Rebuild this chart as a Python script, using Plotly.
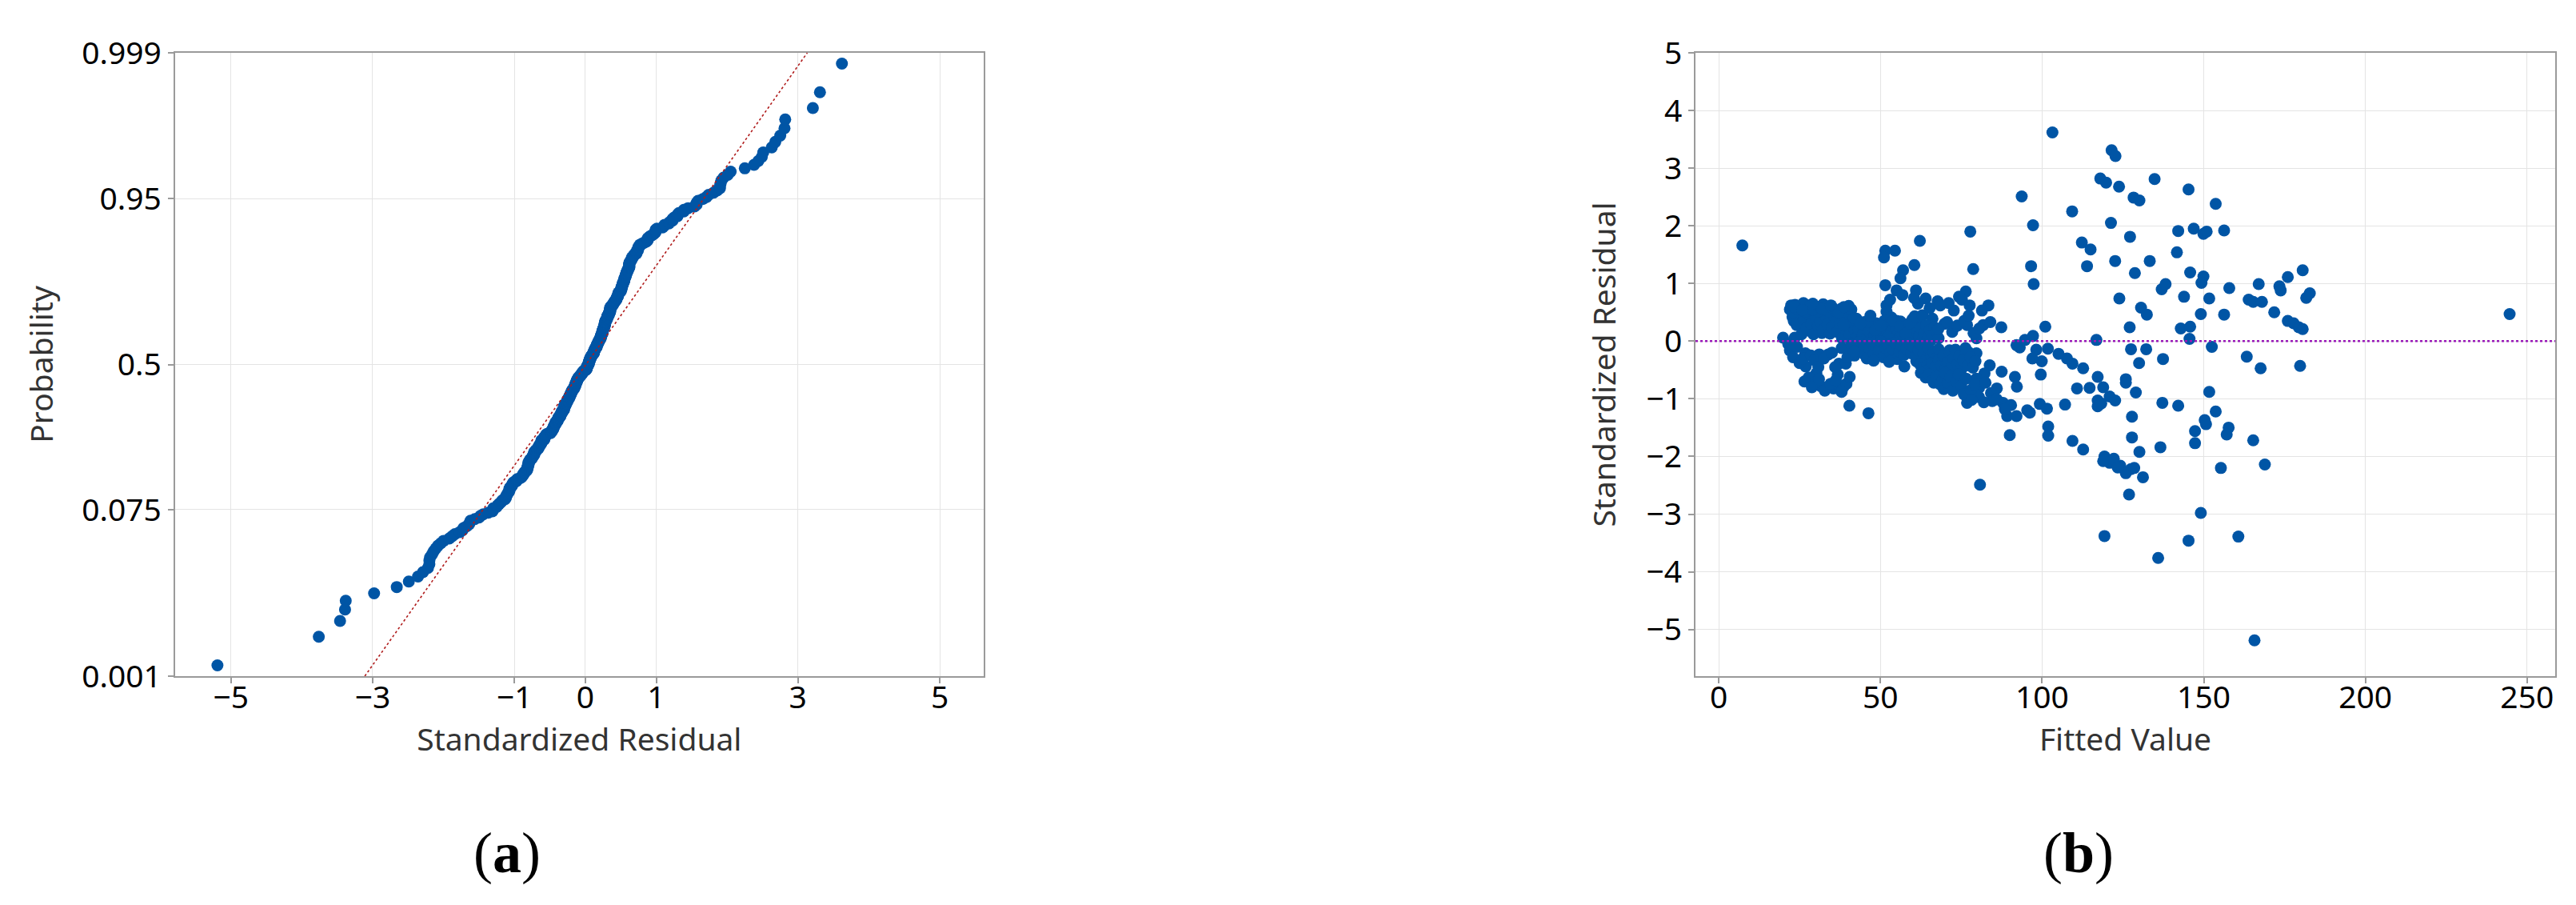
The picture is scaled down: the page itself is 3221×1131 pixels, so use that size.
import plotly.graph_objects as go
from statistics import NormalDist

# ---------------- data (fitted value, standardized residual) ----------------
# clearly separated points, read individually
pts_isolated = [
    (7.3, 1.66), (51.5, 1.57), (54.5, 1.57), (51.1, 1.45), (62.2, 1.74), (60.5, 1.32),
    (57.0, 1.23), (56.2, 1.09), (51.5, 0.97), (55.0, 0.88), (61.0, 0.88), (64.0, 0.74),
    (61.6, 0.65), (67.7, 0.69), (51.9, 0.62), (51.9, 0.51), (22.4, 0.62), (26.9, 0.60),
    (29.4, 0.51), (31.9, 0.46), (23.2, 0.35), (27.8, 0.35), (35.2, 0.35), (38.5, 0.44),
    (40.1, 0.49), (42.6, 0.39), (31.9, 0.14), (28.2, 0.18), (19.9, 0.06), (23.5, 0.06),
    (22.0, -0.16), (26.8, -0.21), (31.1, -0.23), (33.9, -0.23), (26.9, -0.44), (37.2, -0.39),
    (39.3, -0.39), (30.2, -0.56), (27.8, -0.63), (36.8, -0.58), (45.1, -0.23), (50.8, 0.26),
    (55.0, 0.35), (60.0, 0.25), (61.5, 0.05), (66.1, 0.39), (65.7, 0.02), (69.8, 0.30),
    (51.7, -0.25), (57.4, -0.44), (61.1, -0.35), (66.5, -0.35), (68.2, -0.58), (71.4, -0.16),
    (40.4, -1.12), (46.3, -1.25), (66.5, -0.72), (69.6, -0.83), (29.5, -0.72), (31.5, -0.78),
    (33.5, -0.80), (35.5, -0.82), (37.0, -0.76), (38.5, -0.80), (39.5, -0.74),
]
pts_mid = [
    (103.2, 3.62), (121.5, 3.31), (122.7, 3.21), (118.0, 2.82), (119.8, 2.75), (123.8, 2.68),
    (134.8, 2.81), (128.3, 2.49), (130.1, 2.44), (93.7, 2.51), (109.3, 2.25), (97.2, 2.01),
    (121.3, 2.05), (77.8, 1.90), (127.2, 1.81), (112.3, 1.71), (115.0, 1.59), (78.7, 1.25),
    (96.6, 1.30), (113.9, 1.30), (122.6, 1.39), (133.3, 1.39), (128.7, 1.18), (97.4, 0.99),
    (137.0, 0.90), (138.2, 0.99), (123.9, 0.74), (130.6, 0.58), (132.4, 0.46), (127.1, 0.24),
    (101.0, 0.25), (116.8, 0.02), (127.5, -0.14), (132.2, -0.14), (130.0, -0.38), (137.4, -0.31),
    (125.9, -0.66), (117.2, -0.62), (112.7, -0.47), (109.4, -0.39), (107.7, -0.30), (105.1, -0.22),
    (101.8, -0.13), (99.9, -0.35), (98.2, -0.15), (97.0, -0.30), (93.1, -0.11), (92.1, -0.07),
    (94.7, 0.02), (97.2, 0.09), (99.6, -0.58), (91.6, -0.62), (87.5, -0.53), (83.8, -0.42),
    (82.2, -0.56), (79.7, -0.65), (87.4, 0.24), (79.7, 0.05), (81.8, 0.28), (83.4, 0.62),
    (81.4, 0.53), (76.4, 0.86), (75.2, 0.72), (77.6, 0.62), (72.7, 0.53), (72.7, 0.23),
    (76.8, 0.28), (79.7, -0.21), (77.2, -0.19),
    (73.1, -0.81), (76.8, -0.97), (76.8, -1.07), (80.5, -0.81), (80.5, -0.97), (84.2, -0.90),
    (84.6, -1.04), (87.9, -1.07), (90.4, -1.11), (89.2, -1.30), (92.1, -1.30), (95.4, -1.20),
    (92.2, -0.79), (90.0, -1.63), (80.8, -2.49), (99.3, -1.09), (101.5, -1.17), (101.9, -1.48),
    (101.9, -1.64), (107.1, -1.10), (110.8, -0.82), (114.7, -0.81), (118.9, -0.80), (117.2, -1.03),
    (117.2, -1.13), (120.9, -0.96), (122.6, -1.03), (125.9, -0.72), (129.0, -0.89), (127.8, -1.31),
    (127.8, -1.67), (130.1, -1.92), (136.6, -1.84), (137.2, -1.07), (109.4, -1.73), (112.7, -1.88),
    (119.3, -2.00), (120.9, -2.11), (124.2, -2.16), (127.5, -2.22), (125.9, -2.29), (118.9, -2.08),
    (131.2, -2.36), (126.9, -2.66), (119.3, -3.38), (135.9, -3.76),
]
pts_high = [
    (145.3, 2.63), (153.7, 2.38), (142.1, 1.91), (146.9, 1.95), (149.9, 1.86), (150.9, 1.90),
    (156.3, 1.92), (141.7, 1.54), (145.8, 1.19), (149.9, 1.12), (149.3, 1.01), (157.9, 0.92),
    (167.0, 0.99), (173.4, 0.95), (173.8, 0.88), (176.0, 1.11), (180.6, 1.23), (182.8, 0.83),
    (181.7, 0.75), (143.9, 0.77), (151.7, 0.74), (163.9, 0.72), (165.3, 0.68), (168.0, 0.68),
    (149.1, 0.47), (156.3, 0.46), (171.8, 0.50), (176.0, 0.35), (177.8, 0.31), (179.4, 0.24),
    (180.6, 0.21), (142.9, 0.22), (145.8, 0.25), (145.6, 0.04), (152.5, -0.10), (163.3, -0.27),
    (179.8, -0.43), (167.6, -0.47), (151.7, -0.88), (142.1, -1.12), (147.3, -1.56), (150.7, -1.44),
    (150.3, -1.37), (153.7, -1.22), (157.7, -1.50), (157.1, -1.62), (147.3, -1.77), (155.3, -2.20),
    (165.3, -1.72), (168.9, -2.14), (149.1, -2.98), (145.3, -3.46), (160.7, -3.39), (165.7, -5.19),
    (244.6, 0.47),
]
# overlapping points inside the dense cluster (estimated)
pts_dense_upper = [
    (22.8, 0.42), (24.1, 0.28), (24.9, 0.47), (25.6, 0.12), (26.3, 0.38), (27.1, 0.22),
    (27.9, 0.46), (28.6, 0.30), (29.3, 0.12), (30.0, 0.40), (30.7, 0.27), (31.4, 0.35),
    (32.2, 0.19), (32.9, 0.44), (33.6, 0.29), (34.4, 0.13), (35.0, 0.24), (35.9, 0.41),
    (36.6, 0.16), (37.4, 0.31), (38.1, 0.05), (38.9, 0.22), (39.6, 0.36), (40.5, 0.12),
    (41.3, 0.28), (42.1, 0.18), (42.9, 0.08), (43.7, 0.26), (44.4, 0.15), (45.0, 0.33),
    (22.0, 0.55), (23.6, 0.63), (24.5, 0.52), (25.4, 0.58), (26.2, 0.66), (27.5, 0.54),
    (28.3, 0.62), (29.9, 0.57), (30.8, 0.52), (31.5, 0.60), (33.0, 0.55), (34.2, 0.51),
    (36.0, 0.53), (39.0, 0.52), (41.0, 0.55), (22.9, 0.50), (24.0, 0.57), (26.8, 0.51),
    (28.9, 0.55), (32.3, 0.64), (35.1, 0.58), (37.8, 0.56), (40.2, 0.61),
    (23.3, 0.60), (25.9, 0.54), (29.1, 0.65), (31.9, 0.56), (34.7, 0.62), (37.1, 0.50),
    (38.7, 0.59),
]
pts_dense_center = [
    (42.5, 0.05), (43.2, 0.21), (44.0, 0.02), (44.6, 0.12), (45.3, 0.27), (45.9, 0.07),
    (46.5, 0.17), (47.0, 0.01), (47.6, 0.24), (48.2, 0.10), (48.7, 0.31), (49.3, 0.04),
    (49.8, 0.16), (50.4, 0.08), (50.9, 0.20), (51.5, 0.03), (52.0, 0.13), (52.6, 0.28),
    (53.1, 0.06), (53.7, 0.18), (54.2, 0.01), (54.8, 0.23), (55.3, 0.10), (55.9, 0.04),
    (56.4, 0.16), (57.0, 0.30), (57.5, 0.08), (58.1, 0.20), (58.6, 0.02), (59.2, 0.12),
    (59.7, 0.26), (60.3, 0.06), (60.8, 0.17), (61.4, 0.33), (62.0, 0.09), (62.5, 0.22),
    (63.1, 0.03), (63.6, 0.14), (64.2, 0.27), (64.7, 0.07), (65.3, 0.19), (66.0, 0.11),
    (66.7, 0.24), (67.4, 0.16), (68.0, 0.05), (46.1, 0.33), (51.2, 0.35), (56.2, 0.34),
    (59.9, 0.38), (53.4, 0.41),
    (38.6, 0.28), (41.8, 0.40), (43.9, 0.31), (46.9, 0.44), (48.4, 0.19), (50.1, 0.27),
    (52.3, 0.07), (54.0, 0.36), (56.0, 0.25), (57.8, 0.13), (59.0, 0.31), (60.6, 0.43),
    (40.5, -0.15), (41.2, -0.04), (42.0, -0.25), (42.8, -0.11), (43.5, -0.02), (44.3, -0.19),
    (45.0, -0.08), (45.8, -0.30), (46.6, -0.13), (47.3, -0.03), (48.0, -0.22), (48.8, -0.09),
    (49.5, -0.17), (50.2, -0.01), (50.9, -0.28), (51.6, -0.12), (52.3, -0.06), (53.0, -0.20),
    (53.8, -0.14), (54.5, -0.03), (55.2, -0.31), (55.9, -0.18), (56.6, -0.08), (57.3, -0.24),
    (58.0, -0.13), (58.8, -0.04), (59.5, -0.21), (60.2, -0.10), (61.0, -0.27), (61.8, -0.16),
    (62.5, -0.05), (63.3, -0.22), (64.0, -0.33), (64.8, -0.12), (65.6, -0.26), (66.4, -0.19),
    (67.2, -0.30), (68.0, -0.14), (47.9, -0.34), (52.7, -0.36),
]
pts_dense_branches = [
    (63.0, 0.45), (67.9, 0.21), (70.6, 0.33), (72.2, 0.16), (73.8, 0.27), (75.9, 0.35),
    (77.3, 0.44), (78.8, 0.14), (80.6, 0.22), (84.0, 0.33),
    (53.0, 0.72), (56.8, 0.80), (60.4, 0.75), (65.2, 0.57), (68.5, 0.62), (71.1, 0.66),
    (74.3, 0.77),
]
pts_dense_lower = [
    (21.5, -0.05), (23.0, -0.28), (24.2, -0.10), (25.0, -0.38), (26.0, -0.30), (28.5, -0.25),
    (29.6, -0.33), (30.8, -0.45), (32.5, -0.30), (35.0, -0.20), (36.0, -0.45), (38.0, -0.12),
    (39.8, -0.28), (40.9, -0.06), (41.8, -0.18),
    (62.2, -0.40), (63.0, -0.47), (64.5, -0.42), (65.2, -0.49), (66.0, -0.38), (67.0, -0.45),
    (68.0, -0.33), (68.9, -0.42), (69.5, -0.25), (70.2, -0.48), (70.8, -0.36), (71.5, -0.20),
    (72.0, -0.44), (72.6, -0.30), (73.2, -0.15), (73.8, -0.40), (74.4, -0.26), (75.0, -0.49),
    (75.6, -0.33), (76.3, -0.12), (77.0, -0.42), (77.8, -0.28), (78.6, -0.46), (79.4, -0.35),
    (26.5, -0.70), (28.8, -0.80), (31.0, -0.66), (32.8, -0.86), (34.6, -0.74), (36.2, -0.68),
    (38.0, -0.88), (40.5, -0.62),
    (62.5, -0.55), (64.0, -0.63), (65.0, -0.58), (66.2, -0.68), (67.3, -0.62), (68.5, -0.75),
    (69.3, -0.66), (70.0, -0.55), (70.8, -0.72), (71.6, -0.62), (72.4, -0.86), (73.5, -0.70),
    (74.2, -0.58), (75.0, -0.78), (75.8, -0.92), (76.5, -0.65), (78.0, -0.85), (79.2, -0.75),
    (82.5, -0.72), (86.0, -0.82),
    (78.2, -1.02), (82.0, -1.06), (86.0, -1.01), (88.5, -1.18), (96.2, -1.24), (118.3, -1.08),
    (122.2, -2.04), (123.4, -2.19), (128.5, -2.20),
]

prob_ticks = [0.001, 0.075, 0.5, 0.95, 0.999]
prob_labels = ["0.001", "0.075", "0.5", "0.95", "0.999"]
resid_ticks_a = [-5, -3, -1, 0, 1, 3, 5]
fit_mean, fit_sd = 0.01, 1.01   # fitted normal line

# ---------------- assemble ----------------
points = (pts_isolated + pts_mid + pts_high + pts_dense_upper + pts_dense_center
          + pts_dense_branches + pts_dense_lower)
fitted = [p[0] for p in points]
resid = [p[1] for p in points]

nd = NormalDist()
n = len(resid)
res_sorted = sorted(resid)
zscores = [nd.inv_cdf((i + 1 - 0.3) / (n + 0.4)) for i in range(n)]
z_ticks = [nd.inv_cdf(p) for p in prob_ticks]
z_lo, z_hi = z_ticks[0], z_ticks[-1]

BLUE = "#0055A5"
GRID = "#e4e4e4"
AXC = "#9a9a9a"
TICKFONT = dict(family="Noto Sans, Open Sans, DejaVu Sans", size=39, color="#000000")
TITLEFONT = dict(family="Noto Sans, Open Sans, DejaVu Sans", size=39, color="#333333")

fig = go.Figure()

# panel (a): normal probability plot
fig.add_trace(go.Scatter(
    x=res_sorted, y=zscores, mode="markers",
    marker=dict(color=BLUE, size=15, line=dict(width=0)),
    xaxis="x", yaxis="y", showlegend=False, hoverinfo="skip"))
fig.add_trace(go.Scatter(
    x=[fit_mean + fit_sd * z_lo, fit_mean + fit_sd * z_hi], y=[z_lo, z_hi],
    mode="lines", line=dict(color="#b01c1c", width=1.6, dash="dot"),
    xaxis="x", yaxis="y", showlegend=False, hoverinfo="skip"))

# panel (b): residuals vs fits
fig.add_trace(go.Scatter(
    x=fitted, y=resid, mode="markers",
    marker=dict(color=BLUE, size=15, line=dict(width=0)),
    xaxis="x2", yaxis="y2", showlegend=False, hoverinfo="skip"))

common = dict(showline=True, linecolor=AXC, linewidth=2, mirror=True,
              ticks="outside", ticklen=7, tickwidth=2, tickcolor=AXC,
              showgrid=True, gridcolor=GRID, gridwidth=1, zeroline=False,
              tickfont=TICKFONT, automargin=False)
xcommon = dict(common, ticklabelstandoff=-16)

ydom = [1 - 837 / 1131, 1 - 58 / 1131]
fig.update_layout(
    width=3221, height=1131,
    margin=dict(l=0, r=0, t=0, b=0, autoexpand=False),
    paper_bgcolor="white", plot_bgcolor="white",
    xaxis=dict(domain=[210.7 / 3221, 1222 / 3221], range=[-5.79, 5.62],
               tickvals=resid_ticks_a, anchor="y",
               title=dict(text="Standardized Residual", font=TITLEFONT, standoff=10), **xcommon),
    yaxis=dict(domain=ydom, range=[z_lo, z_hi], tickvals=z_ticks, ticktext=prob_labels,
               anchor="x", title=dict(text="Probability", font=TITLEFONT, standoff=24), **common),
    xaxis2=dict(domain=[2112 / 3221, 3187 / 3221], range=[-7.2, 258.7], dtick=50, tick0=0,
                anchor="y2",
                title=dict(text="Fitted Value", font=TITLEFONT, standoff=10), **xcommon),
    yaxis2=dict(domain=ydom, range=[-5.81, 5.0], dtick=1, tick0=0, anchor="x2",
                title=dict(text="Standardized Residual", font=TITLEFONT, standoff=26), **common),
    shapes=[dict(type="line", xref="x2 domain", x0=0, x1=1, yref="y2", y0=0, y1=0,
                 line=dict(color="#9a1ab8", width=2.5, dash="dot"), layer="above")],
    annotations=[
        dict(text="(<b>a</b>)", x=626 / 3221, y=1 - 1058 / 1131, xref="paper", yref="paper",
             showarrow=False, xanchor="center", yanchor="middle",
             font=dict(family="Liberation Serif, Times New Roman, serif", size=72, color="#000")),
        dict(text="(<b>b</b>)", x=2591 / 3221, y=1 - 1058 / 1131, xref="paper", yref="paper",
             showarrow=False, xanchor="center", yanchor="middle",
             font=dict(family="Liberation Serif, Times New Roman, serif", size=72, color="#000")),
    ],
)

fig.write_html("out.html")
